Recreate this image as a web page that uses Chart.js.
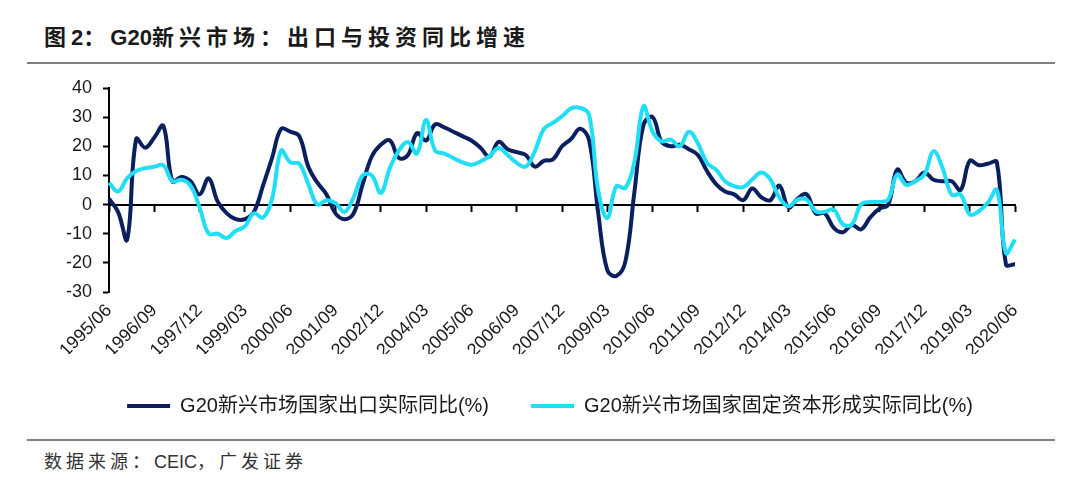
<!DOCTYPE html>
<html>
<head>
<meta charset="utf-8">
<script src="https://cdn.jsdelivr.net/npm/chart.js@4.4.1/dist/chart.umd.min.js"></script>
<style>
  html, body { margin: 0; padding: 0; background: #fff; }
  body { width: 1080px; height: 487px; position: relative; overflow: hidden;
         font-family: "Liberation Sans", "Noto Sans CJK SC", sans-serif; }
  #title { position: absolute; left: 44px; top: 23px; font-size: 22px; font-weight: bold;
           letter-spacing: 5px; color: #1a1a1a; line-height: 30px; white-space: nowrap; }
  .latin { letter-spacing: 0; }
  .rule { position: absolute; left: 27px; width: 1028px; background: #808080; }
  #rule1 { top: 62px; height: 2px; }
  #rule2 { top: 439px; height: 1.5px; }
  #source { position: absolute; left: 44px; top: 449px; font-size: 18px; letter-spacing: 4px;
            color: #333; line-height: 26px; white-space: nowrap; }
  #chart { position: absolute; left: 0; top: 0; }
</style>
</head>
<body>
<div id="title">图<span class="latin">2</span>：<span class="latin">G20</span>新兴市场：出口与投资同比增速</div>
<div class="rule" id="rule1"></div>
<canvas id="chart" width="1080" height="430"></canvas>
<div class="rule" id="rule2"></div>
<div id="source">数据来源：<span class="latin">CEIC</span>，广发证券</div>

<script>
// quarterly categories, 1995/06 .. 2020/06
const quarters = [];
for (let y = 1995, m = 6; quarters.length < 101; ) {
    quarters.push(y + '/' + String(m).padStart(2, '0'));
    m += 3;
    if (m > 12) { m = 3; y++; }
}

// labels shown on the x axis
const tickLabels = ['1995/06', '1996/09', '1997/12', '1999/03', '2000/06', '2001/09', '2002/12',
    '2004/03', '2005/06', '2006/09', '2007/12', '2009/03', '2010/06', '2011/09', '2012/12',
    '2014/03', '2015/06', '2016/09', '2017/12', '2019/03', '2020/06'];

// G20 emerging markets: real exports yoy (%)
const exportsYoy = [
    2, -2.5, -12, 22.5, 19.5, 23, 27, 8, 9.5, 8,
    3.5, 9, 1, -3, -5, -5, -2.5, 6.5, 16, 26,
    25, 23.5, 13, 7.5, 3.5, -3, -5, -3, 7, 16.5,
    20.5, 22, 16, 17, 24.5, 22, 27.5, 26.5, 25, 23.5,
    22, 19.5, 16.5, 21.5, 19, 18, 17, 13, 15, 15.5,
    20, 22.5, 26, 22, -3, -22.5, -24.5, -19.5, 4.5, 27.5,
    30, 21.5, 20, 20.5, 19, 17, 11.5, 7, 4.5, 3.5,
    1.5, 5.5, 2.5, 1.5, 6.5, -1, 2, 3.5, -3, -3,
    -8, -9.5, -7, -8.5, -4.5, -1.5, 0, 12, 7.5, 8,
    11, 8.5, 8, 8, 5, 15, 13.5, 14, 14.5, -20.5,
    -20.5
];

// G20 emerging markets: real gross fixed capital formation yoy (%)
const investYoy = [
    7.5, 4.5, 9, 11.5, 12.5, 13, 13.5, 8, 8.5, 6.5,
    -1, -10, -10, -11.5, -9, -7.5, -3, -4.5, 2, 18.5,
    14.5, 14, 7, 0, 1.5, 0.5, -2.5, 2.5, 10, 10,
    4, 12.5, 18.5, 21.5, 17.5, 29, 18.5, 17.5, 16, 14.5,
    13.7, 14.8, 16.6, 19.4, 17, 14.3, 13, 18.3, 26, 28,
    30.3, 33, 33.2, 30.8, 4.6, -4.6, 6.3, 5.7, 14.8, 33.7,
    25, 21.7, 22.3, 20, 25, 21, 14.3, 12, 8, 6.3,
    6, 8.6, 11, 8.6, 2.3, -0.6, 1.7, 1.7, -2.3, -2.5,
    -1.7, -6.8, -6.8, 0, 0.9, 0.9, 1.7, 10.3, 6.8, 8,
    10.3, 18.3, 12.6, 3.4, 3.4, -3.4, -2.3, 0.6, 5, -16.6,
    -12
];

const seriesNames = ['G20新兴市场国家出口实际同比(%)', 'G20新兴市场国家固定资本形成实际同比(%)'];
const navy = '#0b1f5e';
const cyan = '#20def5';
const font = "'Liberation Sans', 'Noto Sans CJK SC', sans-serif";

const isShown = (i) => tickLabels.includes(quarters[i]);

const ctx = document.getElementById('chart').getContext('2d');

new Chart(ctx, {
    type: 'line',
    data: {
        labels: quarters,
        datasets: [{
            label: seriesNames[0],
            data: exportsYoy,
            borderColor: navy,
            backgroundColor: navy,
            borderWidth: 4,
            pointRadius: 0,
            tension: 0.4,
            order: 1
        }, {
            label: seriesNames[1],
            data: investYoy,
            borderColor: cyan,
            backgroundColor: cyan,
            borderWidth: 4,
            pointRadius: 0,
            tension: 0.4,
            order: 0
        }]
    },
    options: {
        responsive: false,
        animation: false,
        layout: {
            padding: { top: 88, right: 0, bottom: 4, left: 20 }
        },
        plugins: {
            tooltip: { enabled: false },
            legend: {
                position: 'bottom',
                labels: {
                    boxWidth: 43,
                    boxHeight: 4,
                    padding: 42,
                    color: '#1a1a1a',
                    font: { family: font, size: 20 },
                    sort: (a, b) => a.datasetIndex - b.datasetIndex,
                    generateLabels: (chart) => {
                        const items = Chart.defaults.plugins.legend.labels.generateLabels(chart);
                        items.forEach(it => { it.fillStyle = it.strokeStyle; it.lineWidth = 0; });
                        return items;
                    }
                }
            }
        },
        scales: {
            x: {
                position: 'bottom',
                border: { display: false },
                grid: { display: false, drawTicks: false },
                ticks: {
                    autoSkip: false,
                    minRotation: 45,
                    maxRotation: 45,
                    padding: 8,
                    color: '#1a1a1a',
                    font: { family: font, size: 18 },
                    callback: function (value, index) {
                        return isShown(index) ? quarters[index] : null;
                    }
                },
                afterFit: (scale) => { scale.height = 62; }
            },
            x0: {
                type: 'category',
                position: { y: 0 },
                border: { display: true, color: '#000', width: 2 },
                grid: {
                    display: true,
                    drawOnChartArea: false,
                    drawTicks: true,
                    tickLength: 6,
                    tickWidth: 2,
                    color: 'rgba(0,0,0,0)',
                    tickColor: (c) => isShown(c.index) ? '#000' : 'rgba(0,0,0,0)'
                },
                ticks: { display: false, autoSkip: false }
            },
            y: {
                position: 'left',
                min: -30,
                max: 40,
                border: { display: true, color: '#000', width: 2 },
                grid: {
                    drawOnChartArea: false,
                    drawTicks: true,
                    tickLength: 6,
                    tickWidth: 2,
                    tickColor: '#000'
                },
                ticks: {
                    stepSize: 10,
                    padding: 11,
                    color: '#1a1a1a',
                    font: { family: font, size: 18 }
                },
                afterFit: (scale) => { scale.width = 89; }
            },
            // empty right-hand margin so the plot ends where the reference does
            yr: {
                position: 'right',
                display: true,
                border: { display: false },
                grid: { display: false, drawTicks: false },
                ticks: { display: false },
                afterFit: (scale) => { scale.width = 65; }
            }
        }
    }
});
</script>
</body>
</html>
